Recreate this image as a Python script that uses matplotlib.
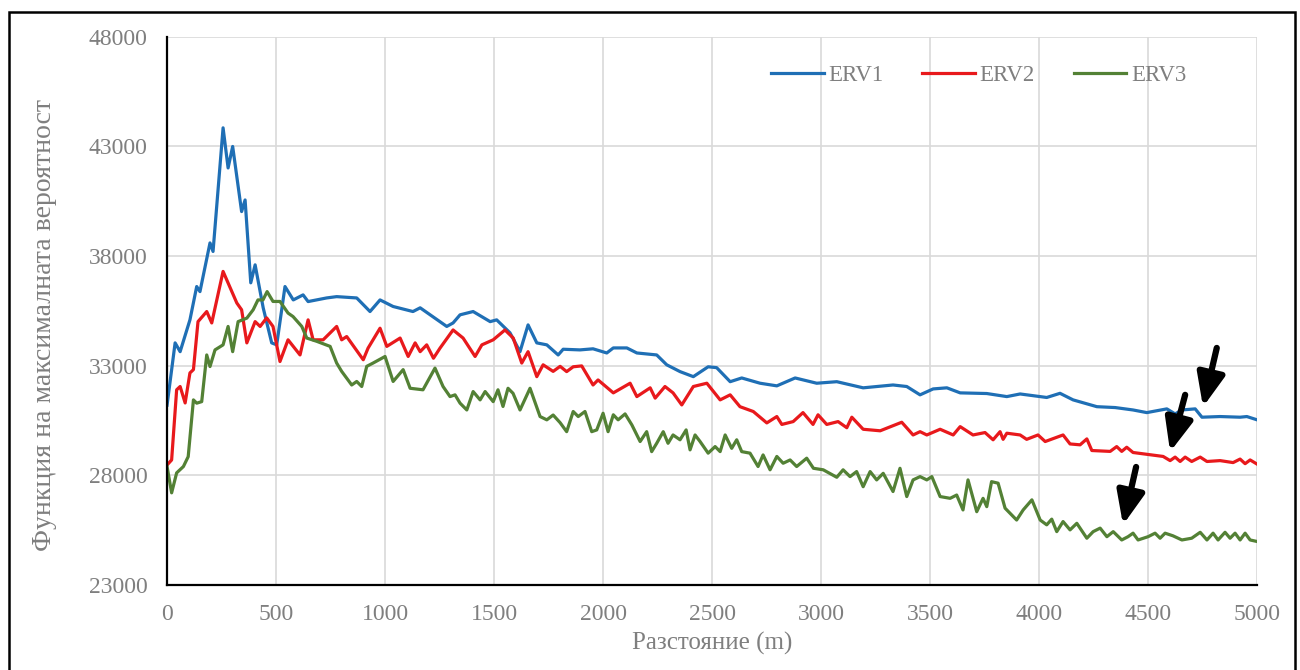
#!/usr/bin/env python3
"""
Функция на максималната вероятност спрямо разстоянието (ERV1, ERV2, ERV3)
"""

import matplotlib
matplotlib.use('Agg')
import matplotlib.pyplot as plt
from matplotlib.patches import Rectangle

plt.rcParams['font.family'] = ['Liberation Serif', 'DejaVu Serif']

# Данни, отчетени от графиката
erv1_x = [0, 37, 60, 105, 136, 151, 197, 211, 257, 280, 301, 342, 358, 384, 404, 441, 480, 503,
          541, 579, 624, 647, 732, 778, 870, 931, 977, 1037, 1128, 1161, 1283, 1312, 1344, 1404,
          1482, 1512, 1573, 1619, 1656, 1696, 1742, 1794, 1817, 1894, 1954, 2017, 2047, 2109,
          2155, 2246, 2292, 2353, 2414, 2482, 2521, 2583, 2636, 2720, 2797, 2881, 2980, 3072,
          3193, 3330, 3393, 3454, 3514, 3577, 3638, 3760, 3852, 3913, 4035, 4096, 4156, 4265,
          4349, 4431, 4494, 4586, 4624, 4655, 4716, 4747, 4830, 4922, 4953, 5000]
erv1_y = [31200, 34040, 33640, 35090, 36610, 36380, 38600, 38210, 43850, 42020, 43000, 40030,
          40560, 36780, 37600, 35640, 34040, 33950, 36610, 36000, 36230, 35925, 36090, 36150,
          36090, 35470, 36000, 35700, 35470, 35640, 34790, 34950, 35320, 35470, 35010, 35090,
          34500, 33640, 34860, 34040, 33950, 33490, 33750, 33720, 33770, 33580, 33810, 33810,
          33580, 33490, 33040, 32730, 32500, 32950, 32910, 32270, 32440, 32200, 32080, 32440,
          32200, 32270, 31990, 32120, 32050, 31670, 31940, 31990, 31760, 31730, 31590, 31710,
          31550, 31740, 31440, 31130, 31090, 30980, 30860, 31030, 30800, 30980, 31030, 30650,
          30680, 30650, 30680, 30530]

erv2_x = [0, 21, 44, 60, 83, 105, 121, 142, 182, 205, 257, 320, 342, 366, 404, 427, 457, 486,
          518, 555, 610, 647, 670, 716, 778, 801, 824, 900, 922, 977, 1008, 1069, 1106, 1138,
          1161, 1191, 1222, 1252, 1312, 1358, 1413, 1444, 1496, 1550, 1588, 1627, 1656, 1696,
          1725, 1771, 1803, 1833, 1863, 1902, 1954, 1977, 2047, 2124, 2155, 2216, 2239, 2284,
          2321, 2361, 2414, 2476, 2537, 2583, 2628, 2689, 2751, 2797, 2820, 2872, 2917, 2963,
          2986, 3026, 3078, 3118, 3141, 3193, 3271, 3370, 3422, 3454, 3485, 3546, 3606, 3638,
          3697, 3752, 3789, 3821, 3835, 3852, 3913, 3943, 3995, 4028, 4110, 4142, 4188, 4219,
          4242, 4326, 4356, 4379, 4402, 4431, 4523, 4569, 4601, 4624, 4647, 4670, 4700, 4739,
          4770, 4830, 4890, 4922, 4945, 4968, 5000]
erv2_y = [28470, 28700, 31900, 32050, 31300, 32670, 32820, 35010, 35470, 34950, 37300, 35860,
          35550, 34040, 35010, 34790, 35180, 34790, 33190, 34180, 33490, 35090, 34180, 34180,
          34790, 34180, 34330, 33270, 33800, 34710, 33880, 34260, 33420, 34040, 33640, 33950,
          33340, 33800, 34630, 34260, 33420, 33950, 34180, 34630, 34260, 33120, 33640, 32500,
          33040, 32740, 32970, 32730, 32950, 32990, 32120, 32350, 31760, 32200, 31590, 31990,
          31520, 32050, 31760, 31210, 32050, 32200, 31440, 31670, 31130, 30910, 30390, 30680,
          30320, 30450, 30860, 30320, 30760, 30320, 30450, 30170, 30650, 30100, 30030, 30420,
          29840, 29990, 29840, 30100, 29840, 30220, 29840, 29950, 29620, 29990, 29640, 29920,
          29840, 29640, 29840, 29540, 29840, 29430, 29390, 29660, 29130, 29090, 29310, 29090,
          29280, 29040, 28920, 28860, 28670, 28830, 28630, 28830, 28630, 28830, 28630, 28670,
          28580, 28740, 28530, 28700, 28510]

erv3_x = [0, 21, 44, 75, 97, 121, 136, 159, 182, 197, 220, 257, 280, 301, 326, 366, 395, 417,
          440, 459, 486, 518, 555, 578, 618, 641, 687, 748, 778, 801, 847, 870, 893, 916, 945,
          1000, 1037, 1083, 1115, 1174, 1229, 1266, 1298, 1321, 1344, 1375, 1404, 1436, 1459,
          1496, 1518, 1541, 1564, 1587, 1619, 1665, 1711, 1742, 1771, 1803, 1833, 1863, 1886,
          1917, 1948, 1971, 2000, 2023, 2047, 2069, 2101, 2132, 2170, 2200, 2223, 2246, 2276,
          2298, 2321, 2353, 2381, 2399, 2422, 2445, 2482, 2514, 2537, 2560, 2590, 2613, 2636,
          2674, 2711, 2734, 2766, 2797, 2826, 2858, 2888, 2934, 2965, 3010, 3072, 3101, 3133,
          3163, 3193, 3225, 3255, 3285, 3330, 3362, 3393, 3422, 3454, 3485, 3508, 3546, 3592,
          3622, 3651, 3674, 3714, 3743, 3760, 3782, 3812, 3844, 3897, 3927, 3967, 4005, 4035,
          4058, 4081, 4110, 4142, 4173, 4219, 4248, 4280, 4311, 4340, 4379, 4408, 4431, 4454,
          4500, 4532, 4555, 4578, 4614, 4655, 4700, 4739, 4770, 4798, 4821, 4853, 4876, 4899,
          4922, 4945, 4968, 5000]
erv3_y = [28400, 27200, 28110, 28400, 28850, 31440, 31290, 31360, 33490, 32960, 33720, 33950,
          34790, 33640, 35010, 35170, 35550, 36000, 36000, 36380, 35930, 35930, 35400, 35240,
          34790, 34260, 34110, 33880, 33120, 32740, 32120, 32280, 32050, 32970, 33120, 33420,
          32280, 32820, 31970, 31900, 32890, 32050, 31590, 31670, 31290, 30980, 31820, 31440,
          31820, 31360, 31900, 31140, 31970, 31740, 30980, 31970, 30680, 30530, 30750, 30400,
          29990, 30910, 30680, 30910, 29990, 30070, 30830, 29990, 30760, 30530, 30800, 30300,
          29540, 29990, 29080, 29460, 29990, 29460, 29840, 29620, 30070, 29160, 29840, 29540,
          29010, 29310, 29080, 29840, 29230, 29620, 29080, 29010, 28400, 28930, 28250, 28860,
          28550, 28700, 28400, 28780, 28320, 28250, 27910, 28250, 27940, 28170, 27480, 28170,
          27790, 28090, 27260, 28320, 27030, 27790, 27940, 27790, 27940, 27030, 26950, 27100,
          26420, 27790, 26340, 26950, 26570, 27710, 27640, 26500, 25960, 26420, 26880, 25960,
          25740, 26000, 25430, 25890, 25510, 25810, 25130, 25430, 25590, 25200, 25430, 25050,
          25200, 25360, 25050, 25200, 25360, 25130, 25360, 25240, 25050, 25130, 25400, 25050,
          25360, 25050, 25400, 25130, 25360, 25050, 25360, 25050, 24980]

series_names = ['ERV1', 'ERV2', 'ERV3']
x_ticks = [0, 500, 1000, 1500, 2000, 2500, 3000, 3500, 4000, 4500, 5000]
y_ticks = [23000, 28000, 33000, 38000, 43000, 48000]

# Стрелки: (опашка x, y), (връх x, y)
arrows = [((4815, 33810), (4752, 31120)),
          ((4670, 31670), (4601, 29070)),
          ((4445, 28380), (4385, 25740))]


def plot_chart():
    fig = plt.figure(figsize=(13, 6.7), dpi=100)
    ax = fig.add_axes([0.1285, 0.127, 0.8385, 0.818])

    colors = ['#1F6FB5', '#E8191C', '#538135']
    gray = '#7F7F7F'

    for xs, ys, name, c in zip([erv1_x, erv2_x, erv3_x], [erv1_y, erv2_y, erv3_y],
                               series_names, colors):
        ax.plot(xs, ys, color=c, linewidth=2.3, label=name, solid_joinstyle='round')

    for tail, head in arrows:
        ax.annotate('', xy=head, xytext=tail,
                    arrowprops=dict(arrowstyle='-|>,head_length=0.9,head_width=0.38',
                                    color='black', lw=4.5, mutation_scale=22,
                                    shrinkA=0, shrinkB=0))

    ax.set_xlim(0, 5000)
    ax.set_ylim(23000, 48000)
    ax.set_xticks(x_ticks)
    ax.set_yticks(y_ticks)
    ax.tick_params(axis='both', length=0, labelsize=17, labelcolor=gray)
    ax.tick_params(axis='x', pad=14)
    ax.tick_params(axis='y', pad=14)

    ax.grid(True, color='#D9D9D9', linewidth=1.2)
    ax.set_axisbelow(True)
    for side in ['top', 'right']:
        ax.spines[side].set_visible(False)
    for side in ['left', 'bottom']:
        ax.spines[side].set_color('black')
        ax.spines[side].set_linewidth(1.6)

    ax.set_xlabel('Разстояние (m)', fontsize=18, color=gray, labelpad=5)
    ax.set_ylabel('Функция на максималната вероятност', fontsize=20, color=gray)
    ax.yaxis.set_label_coords(-0.101, 0.474)

    leg = ax.legend(loc='center', bbox_to_anchor=(0.7445, 0.929), ncol=3, frameon=False,
                    fontsize=16.5, handlelength=2.3, handletextpad=0.2, columnspacing=1.7,
                    borderpad=0)
    for t in leg.get_texts():
        t.set_color(gray)

    # Рамка около цялата фигура
    fig.patches.append(Rectangle((0.0069, -0.02), 0.9893, 1.002, transform=fig.transFigure,
                                 fill=False, edgecolor='black', linewidth=1.8))

    fig.savefig('out.png', dpi=100, facecolor='white')


if __name__ == '__main__':
    plot_chart()
